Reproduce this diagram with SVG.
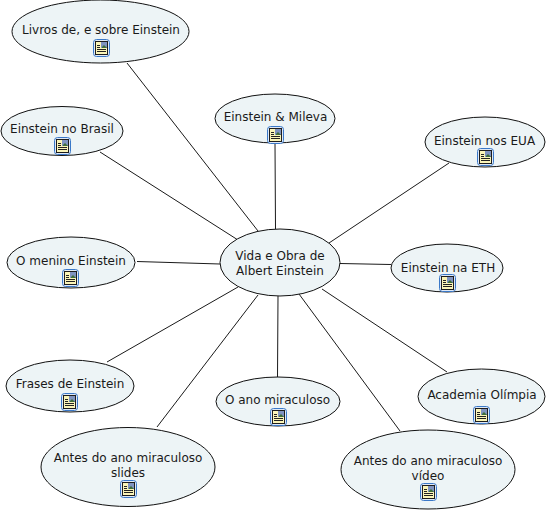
<svg xmlns="http://www.w3.org/2000/svg" width="547" height="511" viewBox="0 0 547 511">
<style>
.n{fill:#edf4f6;stroke:#111;stroke-width:1}
text{font-family:"DejaVu Sans",Verdana,sans-serif;font-size:12px;fill:#1a1a1a;text-anchor:middle}
#c line{stroke:#1a1a1a;stroke-width:1}
</style>
<defs>
<g id="ic">
<rect x="0.5" y="0.5" width="16" height="17" rx="3" fill="#dfe9f7" stroke="#3a78c8"/>
<rect x="2.5" y="2.5" width="12" height="13" fill="#fbf5b8" stroke="#1d1d1d"/>
<rect x="8" y="3" width="6" height="6" fill="#7f93c0"/>
<path d="M9 8L11 6L14 9H9Z" fill="#3f6e3a"/>
<path d="M4 6.500H7M4 8.500H7M4 10.500H13M4 12.500H13" stroke="#222" fill="none"/>
</g>
</defs>
<rect width="547" height="511" fill="#fff"/>
<g id="c">
<line x1="127" y1="63" x2="258" y2="231"/>
<line x1="100" y1="152" x2="238" y2="240"/>
<line x1="275" y1="144" x2="275.500" y2="229"/>
<line x1="449" y1="163" x2="329" y2="243"/>
<line x1="340" y1="263.500" x2="391" y2="264.500"/>
<line x1="137" y1="261.500" x2="220" y2="264"/>
<line x1="107" y1="362" x2="238" y2="287"/>
<line x1="157" y1="427" x2="258" y2="295"/>
<line x1="278" y1="296" x2="277.500" y2="377"/>
<line x1="447" y1="372" x2="322" y2="289"/>
<line x1="400" y1="431" x2="299" y2="294"/>
</g>
<g id="n-livros"><ellipse class="n" cx="100.500" cy="31.500" rx="88.500" ry="31.500"/><text x="101" y="34">Livros de, e sobre Einstein</text><use href="#ic" x="93" y="39"/></g>
<g id="n-brasil"><ellipse class="n" cx="62" cy="131" rx="61" ry="24.500"/><text x="62" y="133">Einstein no Brasil</text><use href="#ic" x="54" y="137"/></g>
<g id="n-mileva"><ellipse class="n" cx="275" cy="118.500" rx="60" ry="24.500"/><text x="275.500" y="121">Einstein &amp; Mileva</text><use href="#ic" x="267" y="126"/></g>
<g id="n-eua"><ellipse class="n" cx="485" cy="142" rx="60" ry="25"/><text x="484.500" y="145">Einstein nos EUA</text><use href="#ic" x="477" y="148"/></g>
<g id="n-eth"><ellipse class="n" cx="447" cy="268" rx="56" ry="24"/><text x="448" y="272">Einstein na ETH</text><use href="#ic" x="439" y="274"/></g>
<g id="n-centro"><ellipse class="n" cx="280" cy="262.500" rx="60" ry="33.500"/><text x="280" y="260">Vida e Obra de</text><text x="280" y="275">Albert Einstein</text></g>
<g id="n-menino"><ellipse class="n" cx="71" cy="262.500" rx="64" ry="25.500"/><text x="71" y="265">O menino Einstein</text><use href="#ic" x="62" y="269"/></g>
<g id="n-frases"><ellipse class="n" cx="70" cy="386" rx="64" ry="26"/><text x="70" y="388">Frases de Einstein</text><use href="#ic" x="61" y="393"/></g>
<g id="n-ano"><ellipse class="n" cx="278" cy="401.500" rx="62" ry="24.500"/><text x="277.500" y="404">O ano miraculoso</text><use href="#ic" x="270" y="408"/></g>
<g id="n-academia"><ellipse class="n" cx="481.500" cy="396.500" rx="63.500" ry="27.500"/><text x="482" y="399">Academia Olímpia</text><use href="#ic" x="473" y="406"/></g>
<g id="n-slides"><ellipse class="n" cx="128" cy="467" rx="87" ry="39.500"/><text x="128" y="462">Antes do ano miraculoso</text><text x="128" y="477">slides</text><use href="#ic" x="120" y="480"/></g>
<g id="n-video"><ellipse class="n" cx="428" cy="469.500" rx="87" ry="39.500"/><text x="428" y="465">Antes do ano miraculoso</text><text x="428" y="480">vídeo</text><use href="#ic" x="420" y="483"/></g>
</svg>
